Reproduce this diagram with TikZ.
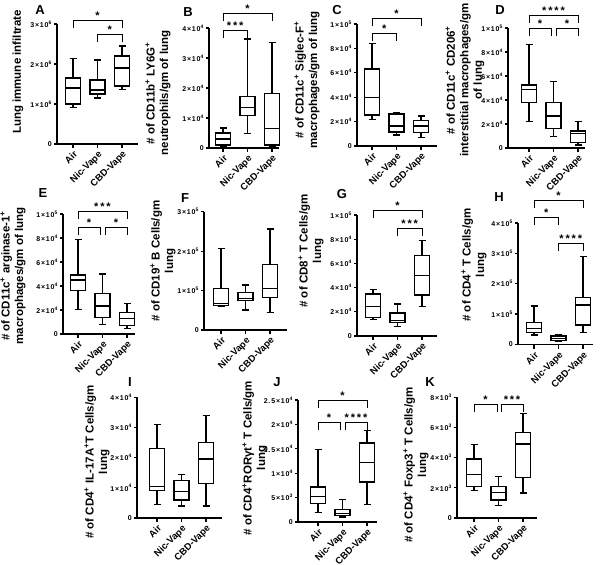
\documentclass[tikz,border=0pt]{standalone}
\usepackage{fontspec}
\setmainfont{Liberation Sans}
\usepackage{tikz}

\newcommand{\sps}{\textsuperscript{+}}
\newcommand{\sci}[2]{#1×10\textsuperscript{#2}}
% box plot: x, min, q1, median, q3, max (data units, scaled by \ypx)
\newcommand{\bplot}[6]{%
  \draw[bx] (#1-7.5,-\ypx*#3) rectangle (#1+7.5,-\ypx*#5);
  \draw[bx] (#1-7.5,-\ypx*#4) -- (#1+7.5,-\ypx*#4);
  \draw[bx] (#1,-\ypx*#2) -- (#1,-\ypx*#3) (#1,-\ypx*#5) -- (#1,-\ypx*#6);
  \draw[bx] (#1-3.5,-\ypx*#2) -- (#1+3.5,-\ypx*#2) (#1-3.5,-\ypx*#6) -- (#1+3.5,-\ypx*#6);}
% axes: top value, first category, x axis length
\newcommand{\axes}[3]{%
  \draw[ax] (0,-\ypx*#1) -- (0,0) -- (#3,0);
  \foreach \c [count=\i from 0] in {Air,Nic-Vape,CBD-Vape}
    \draw[ax] (#2+24.5*\i,0) -- ++(0,4) node[cat] {\c};}
\newcommand{\yticks}[1]{%
  \foreach \v/\t in {#1} \draw[ax] (0,-\ypx*\v) -- ++(-3.5,0) node[tk] {\t};}
% significance bracket: x1, x2, y, stars
\newcommand{\sigbar}[4]{%
  \draw[br] (#1,#3+8) -- (#1,#3) -- (#2,#3) -- (#2,#3+8);
  \node[star] at ({(#1+#2)/2},#3-1) {#4};}

\begin{document}
\begin{tikzpicture}[x=1pt,y=-1pt]
\tikzset{ax/.style={line width=1.3pt},
  bx/.style={line width=1.3pt},
  br/.style={line width=1pt},
  tk/.style={left, inner sep=1pt, font=\bfseries\fontsize{7}{8}\selectfont\addfontfeature{LetterSpace=12}},
  cat/.style={anchor=north east, rotate=45, inner sep=1pt, font=\bfseries\fontsize{9.5}{10}\selectfont},
  star/.style={anchor=base, inner sep=0pt, font=\bfseries\fontsize{11}{12}\selectfont},
  ttl/.style={rotate=90, align=center, font=\bfseries\fontsize{11.5}{13.5}\selectfont},
  pnl/.style={font=\bfseries\fontsize{13}{14}\selectfont}}
\useasboundingbox (0,0) rectangle (600,565);

% A
\node[pnl] (A) at (40,10) {A};
\node[ttl] (tA) at (18,72) {Lung immune infiltrate};
\begin{scope}[shift={(57,144)}]
\def\ypx{40}
\axes{3}{16}{81}
\yticks{0/0,1/\sci{1}{6},2/\sci{2}{6},3/\sci{3}{6}}
\bplot{16}{0.92}{1.0}{1.4}{1.65}{2.13}
\bplot{40.5}{1.15}{1.25}{1.35}{1.6}{2.1}
\bplot{65}{1.37}{1.45}{1.9}{2.2}{2.45}
\end{scope}
\sigbar{73}{122}{20}{*}
\sigbar{97.5}{122}{34}{*}

% B
\node[pnl] (B) at (188,12) {B};
\node[ttl] (tB) at (158,93) {\# of CD11b\sps{} LY6G\sps\\neutrophils/gm of lung};
\begin{scope}[shift={(209,148)}]
\def\ypx{30}
\axes{4}{14}{70}
\yticks{0/0,1/\sci{1}{4},2/\sci{2}{4},3/\sci{3}{4},4/\sci{4}{4}}
\bplot{14}{0.07}{0.1}{0.3}{0.5}{0.67}
\bplot{38.5}{0.49}{1.08}{1.34}{1.71}{3.63}
\bplot{63}{0.05}{0.1}{0.66}{1.82}{3.51}
\end{scope}
\sigbar{223}{272}{13}{*}
\sigbar{223}{247.5}{30}{*\,*\,*}

% C
\node[pnl] (C) at (337,10) {C};
\node[ttl] (tC) at (307,80) {\# of CD11c\sps{} Siglec-F\sps\\macrophages/gm of lung};
\begin{scope}[shift={(357,146)}]
\def\ypx{12.2}
\axes{10}{15}{80}
\yticks{0/0,2/\sci{2}{4},4/\sci{4}{4},6/\sci{6}{4},8/\sci{8}{4},10/\sci{1}{5}}
\bplot{15}{2.19}{2.54}{3.96}{6.3}{8.4}
\bplot{39.5}{0.9}{1.15}{1.64}{2.62}{2.73}
\bplot{64}{0.7}{1.12}{1.64}{2.07}{2.46}
\end{scope}
\sigbar{372}{421}{18}{*}
\sigbar{372}{396.5}{33}{*}

% D
\node[pnl] (D) at (500,10) {D};
\node[ttl] (tD) at (465,80) {\# of CD11c\sps{} CD206\sps\\interstitial macrophages/gm\\of lung};
\begin{scope}[shift={(508,148)}]
\def\ypx{12}
\axes{10}{21}{77}
\yticks{0/0,2/\sci{2}{4},4/\sci{4}{4},6/\sci{6}{4},8/\sci{8}{4},10/\sci{1}{5}}
\bplot{21}{2.19}{3.78}{4.9}{5.25}{8.64}
\bplot{45.5}{0.94}{1.64}{2.67}{3.81}{5.53}
\bplot{70}{0.25}{0.45}{1.22}{1.42}{2.19}
\end{scope}
\sigbar{529}{578}{15}{*\,*\,*\,*}
\sigbar{529}{551}{28}{*}
\sigbar{556}{578}{28}{*}

% E
\node[pnl] (E) at (43,193) {E};
\node[ttl] (tE) at (13,276) {\# of CD11c\sps{} arginase-1\sps\\macrophages/gm of lung};
\begin{scope}[shift={(63,334)}]
\def\ypx{12}
\axes{10}{15}{72}
\yticks{0/0,2/\sci{2}{4},4/\sci{4}{4},6/\sci{6}{4},8/\sci{8}{4},10/\sci{1}{5}}
\bplot{15}{2.06}{3.61}{4.5}{4.92}{7.89}
\bplot{39.5}{0.8}{1.39}{2.33}{3.39}{5.0}
\bplot{64}{0.47}{0.69}{1.31}{1.78}{2.56}
\end{scope}
\sigbar{78}{127}{211}{*\,*\,*}
\sigbar{78}{100}{227}{*}
\sigbar{105}{127}{227}{*}

% F
\node[pnl] (F) at (185,198) {F};
\node[ttl] (tF) at (163,261) {\# of CD19\sps{} B Cells/gm\\lung};
\begin{scope}[shift={(204,330)}]
\def\ypx{39.4}
\axes{3}{17}{83}
\yticks{0/0,1/\sci{1}{5},2/\sci{2}{5},3/\sci{3}{5}}
\bplot{17}{0.6}{0.63}{0.68}{1.06}{2.07}
\bplot{41.5}{0.51}{0.74}{0.8}{0.95}{1.14}
\bplot{66}{0.44}{0.83}{1.06}{1.67}{2.56}
\end{scope}

% G
\node[pnl] (G) at (342,194) {G};
\node[ttl] (tG) at (311,251) {\# of CD8\sps{} T Cells/gm\\lung};
\begin{scope}[shift={(357,336)}]
\def\ypx{12.1}
\axes{10}{16}{80}
\yticks{0/0,2/\sci{2}{4},4/\sci{4}{4},6/\sci{6}{4},8/\sci{8}{4},10/\sci{1}{5}}
\bplot{16}{1.38}{1.55}{2.45}{3.47}{3.86}
\bplot{40.5}{0.8}{1.13}{1.3}{1.9}{2.65}
\bplot{65}{2.42}{3.39}{5.0}{6.64}{7.88}
\end{scope}
\sigbar{373}{422}{210}{*}
\sigbar{397.5}{422}{228}{*\,*\,*}

% H
\node[pnl] (H) at (499,197) {H};
\node[ttl] (tH) at (474,265) {\# of CD4\sps{} T Cells/gm\\lung};
\begin{scope}[shift={(518,344.5)}]
\def\ypx{30.4}
\axes{4}{16}{75}
\yticks{0/0,1/\sci{1}{5},2/\sci{2}{5},3/\sci{3}{5},4/\sci{4}{5}}
\bplot{16}{0.31}{0.4}{0.53}{0.73}{1.27}
\bplot{40.5}{0.1}{0.14}{0.2}{0.28}{0.31}
\bplot{65}{0.39}{0.64}{1.3}{1.54}{2.89}
\end{scope}
\sigbar{534}{583}{200}{*}
\sigbar{534}{558.5}{217}{*}
\sigbar{558.5}{583}{243}{*\,*\,*\,*}

% I
\node[pnl] (I) at (130,382) {I};
\node[ttl] (tI) at (97,462) {\# of CD4\sps{} IL-17A\sps{}T Cells/gm\\lung};
\begin{scope}[shift={(137,518)}]
\def\ypx{30.2}
\axes{4}{20}{85}
\yticks{0/0,1/\sci{1}{4},2/\sci{2}{4},3/\sci{3}{4},4/\sci{4}{4}}
\bplot{20}{0.45}{0.9}{1.05}{2.3}{3.1}
\bplot{44.5}{0.4}{0.6}{0.88}{1.25}{1.45}
\bplot{69}{0.4}{1.15}{1.95}{2.5}{3.4}
\end{scope}

% J
\node[pnl] (J) at (277,382) {J};
\node[ttl] (tJ) at (255,458) {\# of CD4\sps{}RORγt\sps{} T Cells/gm\\lung};
\begin{scope}[shift={(298,522)}]
\def\ypx{4.88}
\axes{25}{20}{79}
\yticks{0/0,5/\sci{5}{3},10/\sci{1}{4},15/\sci{1.5}{4},20/\sci{2}{4},25/\sci{2.5}{4}}
\bplot{20}{2.0}{3.8}{5.2}{7.2}{14.8}
\bplot{44.5}{1.0}{1.3}{1.8}{2.5}{4.6}
\bplot{69}{3.6}{8.2}{12.2}{16.2}{18.8}
\end{scope}
\sigbar{318}{367}{400}{*}
\sigbar{318}{340}{422}{*}
\sigbar{345}{367}{422}{*\,*\,*\,*}

% K
\node[pnl] (K) at (430,382) {K};
\node[ttl] (tK) at (416,465) {\# of CD4\sps{} Foxp3\sps{} T Cells/gm\\lung};
\begin{scope}[shift={(457,518)}]
\def\ypx{15.1}
\axes{8}{17}{80}
\yticks{0/0,2/\sci{2}{3},4/\sci{4}{3},6/\sci{6}{3},8/\sci{8}{3}}
\bplot{17}{1.8}{2.1}{2.9}{3.9}{4.85}
\bplot{41.5}{0.85}{1.2}{1.7}{2.1}{2.75}
\bplot{66}{1.65}{2.7}{4.9}{5.65}{6.9}
\end{scope}
\sigbar{474}{497}{404}{*}
\sigbar{501}{523}{404}{*\,*\,*}
\end{tikzpicture}
\end{document}
